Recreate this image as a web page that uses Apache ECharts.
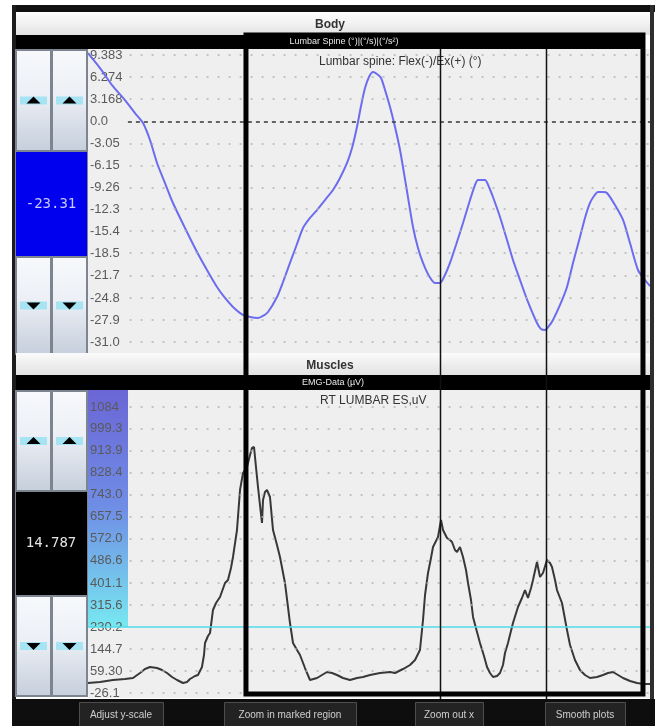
<!DOCTYPE html>
<html><head><meta charset="utf-8">
<script src="https://cdn.jsdelivr.net/npm/echarts@6/dist/echarts.min.js"></script>
<style>html,body{margin:0;padding:0;background:#fff;}#c{width:659px;height:726px;}</style>
</head><body><div id="c"></div>
<script>
// ---------- data ----------
const lumbarTime = [0,0.214,0.427,0.658,0.836,0.979,1.103,1.228,1.370,1.512,1.726,1.940,2.117,2.295,2.438,2.580,2.758,2.883,3.025,3.114,3.203,3.363,3.470,3.594,3.719,3.826,3.950,4.075,4.217,4.359,4.484,4.609,4.698,4.786,4.858,4.929,5.000,5.071,5.142,5.214,5.285,5.374,5.463,5.552,5.658,5.783,5.872,5.961,6.068,6.174,6.263,6.352,6.441,6.548,6.673,6.797,6.886,6.940,7.064,7.135,7.206,7.331,7.456,7.562,7.687,7.829,7.989,8.060,8.132,8.203,8.274,8.399,8.523,8.630,8.754,8.843,8.932,9.004,9.075,9.164,9.235,9.377,9.520,9.644,9.786,9.911,10.0];
const lumbarAngle = [9.66,7.55,5.16,3.05,1.22,-0.19,-2.58,-5.81,-8.63,-11.44,-14.96,-18.34,-20.87,-23.26,-24.81,-26.07,-27.20,-27.48,-27.62,-27.34,-26.78,-24.67,-22.56,-19.88,-17.21,-14.96,-13.55,-12.43,-11.02,-9.61,-7.92,-5.81,-3.70,-0.75,2.21,4.74,6.29,6.99,6.71,6.15,4.46,2.07,-0.75,-3.98,-8.91,-14.82,-17.77,-19.88,-21.71,-22.70,-22.70,-21.57,-19.88,-17.35,-14.26,-11.02,-8.91,-8.21,-8.21,-9.19,-10.60,-13.41,-16.65,-19.46,-22.28,-25.37,-28.33,-29.18,-29.31,-28.75,-27.90,-25.79,-23.26,-19.88,-16.23,-13.55,-11.44,-10.46,-9.89,-9.89,-10.03,-11.72,-13.83,-17.07,-20.87,-22.28,-23.12];

const emgTime = [0,0.214,0.445,0.658,0.801,0.925,1.014,1.103,1.228,1.317,1.406,1.495,1.584,1.690,1.762,1.815,1.904,1.957,2.028,2.064,2.082,2.135,2.171,2.224,2.278,2.349,2.438,2.491,2.544,2.580,2.651,2.705,2.758,2.829,2.883,2.918,2.954,2.989,3.025,3.060,3.096,3.114,3.149,3.185,3.238,3.292,3.363,3.416,3.505,3.594,3.648,3.719,3.772,3.861,3.950,4.075,4.164,4.253,4.342,4.431,4.537,4.662,4.786,4.893,5.018,5.196,5.374,5.463,5.498,5.605,5.730,5.819,5.907,5.961,5.997,6.050,6.103,6.139,6.228,6.281,6.317,6.388,6.441,6.477,6.530,6.566,6.619,6.673,6.726,6.762,6.815,6.851,6.922,6.975,7.046,7.100,7.153,7.206,7.278,7.331,7.384,7.420,7.473,7.562,7.651,7.722,7.776,7.829,7.883,7.918,7.989,8.043,8.096,8.167,8.221,8.256,8.310,8.345,8.434,8.523,8.577,8.665,8.754,8.843,8.932,9.057,9.164,9.253,9.342,9.431,9.520,9.644,9.769,9.893,10.0];
const emgValue = [12.7,16.6,24.4,28.2,32.1,51.5,67.0,74.8,70.9,63.2,51.5,36.0,24.4,12.7,16.6,28.2,39.9,43.8,74.8,121.4,168.0,195.1,206.8,296.1,323.2,346.5,400.9,412.5,459.1,501.8,606.6,761.9,827.8,851.1,897.7,924.9,928.7,851.1,773.5,703.6,633.8,723.0,754.1,761.8,734.7,606.6,548.4,501.8,400.9,245.6,168.0,140.8,121.4,70.9,24.4,32.1,43.8,55.4,51.5,43.8,32.1,24.4,32.1,36.0,43.8,51.5,55.4,51.5,55.4,67.0,82.6,102.0,140.8,257.3,354.3,439.7,497.9,540.6,579.4,645.4,606.6,575.5,567.8,560.0,529.0,521.2,540.6,501.8,451.3,400.9,334.9,269.0,210.7,168.0,117.5,74.8,51.5,36.0,39.9,51.5,82.6,129.2,168.0,245.6,307.7,342.6,373.6,342.6,381.4,412.5,482.4,424.2,439.7,490.1,478.5,463.0,412.5,373.6,323.2,218.4,160.2,102.0,63.2,43.8,32.1,36.0,43.8,51.5,55.4,43.8,32.1,20.5,12.7,8.8,8.8];

const lumbarTicks = [9.383,6.274,3.168,0.0,-3.05,-6.15,-9.26,-12.3,-15.4,-18.5,-21.7,-24.8,-27.9,-31.0];
const lumbarTickLabels = ['9.383','6.274','3.168','0.0','-3.05','-6.15','-9.26','-12.3','-15.4','-18.5','-21.7','-24.8','-27.9','-31.0'];
const emgTicks = [1084,999.3,913.9,828.4,743.0,657.5,572.0,486.6,401.1,315.6,230.2,144.7,59.30,-26.1];
const emgTickLabels = ['1084','999.3','913.9','828.4','743.0','657.5','572.0','486.6','401.1','315.6','230.2','144.7','59.30','-26.1'];
const emgThreshold = 230.2;
const cursorTimes = [6.263, 8.149];
const markedRegion = [2.811, 9.875];
const lumbarCurrent = '-23.31';
const emgCurrent = '14.787';
const bottomButtons = ['Adjust y-scale','Zoom in marked region','Zoom out x','Smooth plots'];

// ---------- chart ----------
const FONT = '"Liberation Sans", Arial, sans-serif';
const lumbarAxisMin = -32.55, lumbarAxisMax = 10.23;
const emgAxisMin = -45.5, emgAxisMax = 1150;
const timeMin = 0, timeMax = 10;
const dotStart = 0.74, labelColEnd = 0.712;

function tickLabel(ticks, labels) {
  return v => { let bi = 0, bd = Infinity; ticks.forEach((t, i) => { const d = Math.abs(t - v); if (d < bd) { bd = d; bi = i; } }); return labels[bi]; };
}
const dotStyle = { color: '#b4b4b4', width: 1.6, type: [2, 9] };
function rows(ticks, skip) {
  return ticks.filter(v => !skip.includes(v)).map(v => [{ coord: [dotStart, v], lineStyle: dotStyle }, { coord: [timeMax, v] }]);
}
function yAx(idx, min, max, ticks, labels) {
  return { type: 'value', gridIndex: idx, min, max, z: 3,
    axisLine: { show: false }, axisTick: { show: false }, splitLine: { show: false },
    axisLabel: { inside: true, margin: 2, customValues: ticks, formatter: tickLabel(ticks, labels),
      color: '#5a5a5a', fontSize: 13, fontFamily: FONT, align: 'left', verticalAlign: 'middle' } };
}

const chart = echarts.init(document.getElementById('c'));
chart.setOption({
  animation: false,
  textStyle: { fontFamily: FONT },
  grid: [
    { left: 88, top: 49, width: 562, height: 304, show: true, backgroundColor: '#efefef', borderWidth: 0 },
    { left: 88, top: 390, width: 562, height: 308, show: true, backgroundColor: '#efefef', borderWidth: 0 }
  ],
  xAxis: [
    { type: 'value', gridIndex: 0, min: timeMin, max: timeMax, show: false },
    { type: 'value', gridIndex: 1, min: timeMin, max: timeMax, show: false }
  ],
  yAxis: [
    yAx(0, lumbarAxisMin, lumbarAxisMax, lumbarTicks, lumbarTickLabels),
    yAx(1, emgAxisMin, emgAxisMax, emgTicks, emgTickLabels)
  ],
  title: [
    { text: 'Lumbar spine: Flex(-)/Ex(+) (°)', left: 319, top: 56, padding: 0, textStyle: { fontSize: 12, fontWeight: 'normal', color: '#333', fontFamily: FONT } },
    { text: 'RT LUMBAR ES,uV', left: 320, top: 395, padding: 0, textStyle: { fontSize: 12, fontWeight: 'normal', color: '#333', fontFamily: FONT } }
  ],
  series: [
    { type: 'line', xAxisIndex: 0, yAxisIndex: 0, showSymbol: false, smooth: 0.25,
      data: lumbarTime.map((t, i) => [t, lumbarAngle[i]]),
      lineStyle: { color: '#6c6cee', width: 2 },
      markLine: { silent: true, symbol: ['none', 'none'], label: { show: false },
        data: rows(lumbarTicks, [0]).concat([[{ coord: [0.71, 0], lineStyle: { color: '#444', width: 1.6, type: [4, 4] } }, { coord: [timeMax, 0] }]]) } },
    { type: 'line', xAxisIndex: 1, yAxisIndex: 1, showSymbol: false,
      data: emgTime.map((t, i) => [t, emgValue[i]]),
      lineStyle: { color: '#383838', width: 2 },
      markArea: { silent: true, data: [[{ coord: [timeMin, emgAxisMax], itemStyle: { color: { type: 'linear', x: 0, y: 0, x2: 0, y2: 1,
        colorStops: [{ offset: 0, color: '#6b66d6' }, { offset: 0.5, color: '#6f8ee6' }, { offset: 1, color: '#78e8f0' }] } } },
        { coord: [labelColEnd, emgThreshold] }]] },
      markLine: { silent: true, symbol: ['none', 'none'], label: { show: false },
        data: rows(emgTicks, [emgThreshold]).concat([[{ coord: [timeMin, emgThreshold], lineStyle: { color: '#4fdbe8', width: 1.5, type: 'solid', opacity: 1 } }, { coord: [timeMax, emgThreshold] }]]) } }
  ]
});

// ---------- UI chrome ----------
const g = [];
const Z = 50;
function rect(x, y, w, h, fill, extra) { g.push(Object.assign({ type: 'rect', z: Z, shape: { x, y, width: w, height: h }, style: { fill } }, extra || {})); }
function txt(x, y, s, font, fill, align) { g.push({ type: 'text', z: Z + 2, x, y, style: { text: s, font, fill, align: align || 'center', verticalAlign: 'middle' } }); }
const vgrad = (a, b) => ({ type: 'linear', x: 0, y: 0, x2: 0, y2: 1, colorStops: [{ offset: 0, color: a }, { offset: 1, color: b }] });
const btnGrad = { type: 'linear', x: 0, y: 0, x2: 0, y2: 1, colorStops: [{ offset: 0, color: '#f7f9fc' }, { offset: 0.45, color: '#eceff5' }, { offset: 1, color: '#c6cfdc' }] };

function arrowBtn(x, y, w, h, up) {
  g.push({ type: 'rect', z: Z, shape: { x: x + 0.5, y: y + 0.5, width: w - 1, height: h - 1 }, style: { fill: btnGrad, stroke: '#7c8490', lineWidth: 1 } });
  const cx = x + w / 2, ay = y + h / 2;
  rect(x + 4, ay - 4, w - 8, 8, '#a6e3f3');
  const pts = up ? [[cx - 7, ay + 3], [cx + 7, ay + 3], [cx, ay - 4]] : [[cx - 7, ay - 3], [cx + 7, ay - 3], [cx, ay + 4]];
  g.push({ type: 'polygon', z: Z + 1, shape: { points: pts }, style: { fill: '#000' } });
}
function controlPanel(top, upH, boxH, downH, boxFill, boxText, boxTextColor) {
  rect(15, top, 73, upH + boxH + downH + 4, '#7d8590');
  arrowBtn(16, top + 1, 35, upH, true); arrowBtn(52, top + 1, 35, upH, true);
  rect(16, top + 1 + upH + 1, 71, boxH, boxFill);
  txt(51, top + 1 + upH + 1 + boxH / 2, boxText, '14px "DejaVu Sans Mono", monospace', boxTextColor);
  const dy = top + 1 + upH + 1 + boxH + 1;
  arrowBtn(16, dy, 35, downH, false); arrowBtn(52, dy, 35, downH, false);
}

// frame
rect(12, 5, 643, 7, '#111');
rect(12, 5, 4, 721, '#1c1c1c');
rect(650, 5, 4, 721, '#2e2e2e');
// Body header
rect(16, 12, 634, 23, vgrad('#ffffff', '#e3e3e3'));
txt(330, 25, 'Body', 'bold 12px ' + FONT, '#333');
rect(16, 35, 628, 14, '#000');
txt(344, 42, 'Lumbar Spine (°)|(°/s)|(°/s²)', '9px ' + FONT, '#e8e8e8');
controlPanel(49, 101, 104, 97, '#0000ee', lumbarCurrent, '#c9c9ff');
// Muscles header
rect(16, 353, 634, 22, vgrad('#fbfbfb', '#e2e2e2'));
txt(330, 366, 'Muscles', 'bold 12px ' + FONT, '#333');
rect(16, 375, 634, 15, '#000');
txt(333, 383, 'EMG-Data (µV)', '9px ' + FONT, '#e8e8e8');
controlPanel(390, 100, 103, 100, '#000', emgCurrent, '#e4e4e4');
// bottom bar
rect(12, 699, 643, 27, '#0e0e0e');
const bx = [[79, 84], [224, 132], [415, 68], [545, 80]];
bottomButtons.forEach((s, i) => {
  g.push({ type: 'rect', z: Z, shape: { x: bx[i][0] + 0.5, y: 702.5, width: bx[i][1], height: 24 }, style: { fill: '#232323', stroke: '#4d4d4d', lineWidth: 1 } });
  txt(bx[i][0] + bx[i][1] / 2, 715, s, '10px ' + FONT, '#cfcfcf');
});

// overlays from the data scale
const px = t => chart.convertToPixel({ xAxisIndex: 0 }, t);
cursorTimes.forEach(t => {
  const x = Math.round(px(t)) + 0.5;
  g.push({ type: 'line', z: Z + 10, shape: { x1: x, y1: 49, x2: x, y2: 700 }, style: { stroke: '#111', lineWidth: 1.5 } });
});
const xl = px(markedRegion[0]), xr = px(markedRegion[1]);
g.push({ type: 'rect', z: Z + 11, shape: { x: xl, y: 35, width: xr - xl, height: 659 }, style: { fill: null, stroke: '#000', lineWidth: 5 } });

chart.setOption({ graphic: { elements: g } });
</script>
</body></html>
